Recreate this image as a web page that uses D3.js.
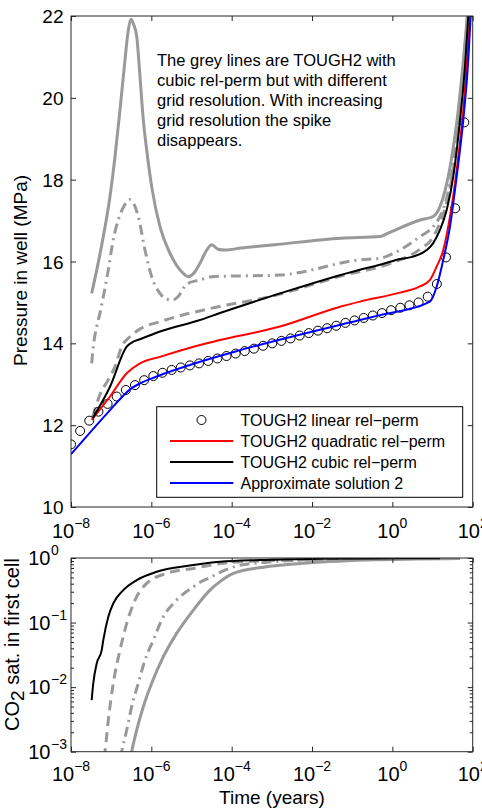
<!DOCTYPE html>
<html><head><meta charset="utf-8">
<script src="https://cdn.jsdelivr.net/npm/d3@7"></script>
<style>
body{margin:0;background:#fff}
svg{display:block}
text{font-family:"Liberation Sans",Arial,Helvetica,sans-serif;fill:#000}
</style>
</head><body>
<svg id="c" width="482" height="811"></svg>
<script>
// ---------- data ----------
const xTicks = [1e-8, 1e-6, 1e-4, 1e-2, 1e0, 1e2];
const xTickExp = ["\u22128", "\u22126", "\u22124", "\u22122", "0", "2"];
const pTicks = [10, 12, 14, 16, 18, 20, 22];
const sTicks = [1e-3, 1e-2, 1e-1, 1];
const sTickExp = ["\u22123", "\u22122", "\u22121", "0"];
const sMinor = [2e-3,3e-3,4e-3,5e-3,6e-3,7e-3,8e-3,9e-3,2e-2,3e-2,4e-2,5e-2,6e-2,7e-2,8e-2,9e-2,0.2,0.3,0.4,0.5,0.6,0.7,0.8,0.9];

const legendLabels = ["TOUGH2 linear rel\u2212perm", "TOUGH2 quadratic rel\u2212perm", "TOUGH2 cubic rel\u2212perm", "Approximate solution 2"];
const noteLines = ["The grey lines are TOUGH2 with", "cubic rel-perm but with different", "grid resolution. With increasing", "grid resolution the spike", "disappears."];

// pressure: TOUGH2 linear (circles)
const circT = [1.00e-8,1.69e-8,2.85e-8,4.82e-8,8.14e-8,1.375e-7,2.32e-7,3.92e-7,6.63e-7,1.12e-6,1.89e-6,3.20e-6,5.40e-6,9.12e-6,1.54e-5,2.60e-5,4.40e-5,7.43e-5,1.255e-4,2.12e-4,3.58e-4,6.05e-4,1.022e-3,1.726e-3,2.916e-3,4.93e-3,8.32e-3,1.406e-2,2.375e-2,4.01e-2,6.78e-2,0.1145,0.1934,0.3267,0.552,0.932,1.575,2.66,4.49,7.59,12.82,21.66,36.6,61.8];
const circP = [11.53,11.86,12.11,12.33,12.52,12.70,12.86,12.98,13.10,13.20,13.28,13.35,13.41,13.46,13.51,13.57,13.63,13.69,13.75,13.81,13.87,13.94,14.00,14.06,14.12,14.19,14.25,14.31,14.37,14.43,14.50,14.56,14.62,14.68,14.74,14.81,14.87,14.93,15.00,15.14,15.45,16.10,17.30,19.40];

// pressure: quadratic (red)
const redT = [3.27e-8,9.35e-8,2.44e-7,5.22e-7,1.64e-6,1.63e-5,5.12e-5,1.60e-3,0.0526,0.156,1.55,4.88,8.65,12.7,18.5,27.2,40.0,58.3,77.7,85.7];
const redP = [12.13,12.70,13.27,13.51,13.67,13.96,14.08,14.41,14.90,15.02,15.24,15.39,15.55,15.88,16.28,17.10,18.24,19.71,21.34,22.0];

// pressure: cubic (black)
const blackT = [3.47e-8,9.35e-8,2.44e-7,3.56e-7,5.22e-7,1.64e-6,1.63e-5,5.12e-5,1.60e-3,0.156,0.492,1.55,3.32,7.16,10.4,15.3,22.5,32.9,48.3,64.3,77.7];
const blackP = [12.17,12.94,13.92,14.04,14.10,14.29,14.57,14.74,15.22,15.80,15.92,16.06,16.12,16.28,16.45,16.77,17.26,18.08,19.46,20.77,22.0];

// pressure: approximate solution 2 (blue)
const blueT = [1e-8,1.0e-7,2.0e-7,3.0e-7,5.22e-7,1.36e-6,1.63e-5,1.71e-4,0.156,0.492,8.65,12.7,18.5,27.2,40.0,58.3,77.7,89.1];
const blueP = [11.29,12.40,12.72,12.88,13.02,13.19,13.55,13.84,14.57,14.69,15.02,15.39,16.04,16.85,18.08,19.46,20.93,22.0];

// pressure: grey, coarse grid (solid)
const gSolidT = [3.27e-8,4.37e-8,6.37e-8,9.35e-8,1.245e-7,1.66e-7,2.21e-7,2.67e-7,3.12e-7,3.60e-7,4.33e-7,5.22e-7,6.31e-7,7.65e-7,1.02e-6,1.64e-6,2.92e-6,6.25e-6,8.32e-6,1.22e-5,1.63e-5,2.30e-5,3.18e-5,4.56e-5,6.83e-5,1.71e-4,1.15e-3,0.0526,0.492,0.766,5.16,10.4,15.3,27.2,43.8,64.3,73.4];
const gSolidP = [15.22,15.79,16.61,17.59,18.56,19.71,20.93,21.66,21.92,21.80,21.5,20.52,19.46,18.73,17.83,16.85,16.2,15.71,15.63,15.75,15.96,16.25,16.41,16.30,16.28,16.33,16.41,16.57,16.61,16.69,17.02,17.10,17.34,18.3,19.71,21.34,22.0];

// pressure: grey, medium grid (dash-dot)
const gDotT = [3.27e-8,3.59e-8,4.37e-8,5.27e-8,6.37e-8,8.49e-8,1.11e-7,1.48e-7,2.08e-7,2.94e-7,4.73e-7,6.95e-7,1.02e-6,1.64e-6,2.32e-6,3.46e-6,4.61e-6,7.59e-6,1.63e-5,3.24e-5,1.60e-3,0.156,0.492,1.55,4.88,10.4,15.3,22.5,30.5,43.1,60.7,74.3];
const gDotP = [13.51,13.92,14.41,14.74,15.14,15.80,16.5,17.0,17.35,17.51,17.1,16.28,15.63,15.22,15.08,15.06,15.14,15.45,15.55,15.63,15.67,16.04,16.08,16.28,16.61,16.85,17.1,17.55,18.2,19.4,21.0,22.0];

// pressure: grey, fine grid (dashed)
const gDashT = [3.47e-8,5.27e-8,8.34e-8,1.245e-7,1.83e-7,2.94e-7,5.22e-7,1.64e-6,3.18e-5,8.02e-4,0.0662,0.873,4.88,10.4,15.3,22.5,32.9,48.3,64.3,76.4];
const gDashP = [12.2,12.75,13.1,13.43,13.92,14.16,14.35,14.53,14.86,15.13,15.67,15.95,16.3,16.6,16.95,17.45,18.25,19.6,20.95,22.0];

// saturation (bottom panel)
const sBlackT = [3.27e-8,3.59e-8,4.37e-8,5.81e-8,6.37e-8,8.49e-8,1.13e-7,2.00e-7,4.33e-7,1.36e-6,1.11e-5,5.12e-5,5.07e-4,0.0158,1.55,15.3];
const sBlackS = [6.3e-3,0.0115,0.0233,0.0375,0.0536,0.123,0.198,0.318,0.455,0.611,0.776,0.873,0.93,0.97,0.99,0.995];
const sDashT = [6.64e-8,7.01e-8,8.49e-8,1.13e-7,1.66e-7,2.44e-7,3.92e-7,7.65e-7,2.41e-6,1.11e-5,5.12e-5,5.07e-4,0.0158,1.55,48.3];
const sDashS = [8e-4,1e-3,3.1e-3,0.0115,0.0375,0.097,0.223,0.404,0.578,0.69,0.82,0.9,0.95,0.98,0.99];
const sDotT = [1.71e-7,1.83e-7,2.44e-7,3.24e-7,4.73e-7,6.95e-7,1.12e-6,1.99e-6,4.27e-6,1.11e-5,1.63e-5,2.88e-5,5.12e-5,1.33e-4,9.0e-4,0.0158,1.55,48.3];
const sDotS = [8e-4,1e-3,2.17e-3,4.98e-3,0.0115,0.0263,0.0536,0.123,0.223,0.358,0.42,0.5,0.6,0.75,0.87,0.94,0.98,0.99];
const sSolidT = [3.03e-7,3.24e-7,4.33e-7,6.31e-7,1.02e-6,1.99e-6,4.27e-6,1.11e-5,2.88e-5,5.12e-5,1.10e-4,7.45e-4,5.02e-3,0.23,48.3];
const sSolidS = [8e-4,1e-3,2.17e-3,4.98e-3,0.0115,0.0296,0.068,0.156,0.318,0.43,0.578,0.73,0.82,0.93,0.985];

// ---------- layout ----------
const W = 482, H = 811;
const L = 71, R = 472.7, T1 = 16, B1 = 507, T2 = 558, B2 = 751.7;
const GREY = "#999999", AX = "#262626";

const svg = d3.select("#c");
const x = d3.scaleLog().domain([1e-8, 1e2]).range([L, R]);
const yP = d3.scaleLinear().domain([10, 22]).range([B1, T1]);
const yS = d3.scaleLog().domain([1e-3, 1]).range([B2, T2]);

const defs = svg.append("defs");
defs.append("clipPath").attr("id", "clipTop").append("rect").attr("x", L).attr("y", T1).attr("width", R - L).attr("height", B1 - T1);
defs.append("clipPath").attr("id", "clipBot").append("rect").attr("x", L).attr("y", T2).attr("width", R - L).attr("height", B2 - T2);

const lineP = d3.line().x(d => x(d[0])).y(d => yP(d[1])).curve(d3.curveMonotoneX);
const lineS = d3.line().x(d => x(d[0])).y(d => yS(d[1])).curve(d3.curveMonotoneX);

function drawLine(g, gen, t, v, color, width, dash) {
  g.append("path").datum(d3.zip(t, v)).attr("d", gen)
    .attr("fill", "none").attr("stroke", color).attr("stroke-width", width)
    .attr("stroke-dasharray", dash || null).attr("stroke-linejoin", "round");
}

// ---------- top panel ----------
const gTop = svg.append("g").attr("clip-path", "url(#clipTop)");
drawLine(gTop, lineP, gSolidT, gSolidP, GREY, 3);
drawLine(gTop, lineP, gDotT, gDotP, GREY, 3, "10,5,2,5");
drawLine(gTop, lineP, gDashT, gDashP, GREY, 3, "10,6");
gTop.append("g").selectAll("circle").data(d3.zip(circT, circP)).join("circle")
  .attr("cx", d => x(d[0])).attr("cy", d => yP(d[1])).attr("r", 4.5)
  .attr("fill", "none").attr("stroke", "#000").attr("stroke-width", 1);
drawLine(gTop, lineP, redT, redP, "#ff0000", 2);
drawLine(gTop, lineP, blackT, blackP, "#000000", 2);
drawLine(gTop, lineP, blueT, blueP, "#0000ff", 2);

// annotation
const note = svg.append("text").attr("x", 157).attr("y", 66).attr("font-size", 16.5);
noteLines.forEach((s, i) => note.append("tspan").attr("x", 157).attr("y", 66 + i * 20).text(s));

// legend
const lg = svg.append("g");
lg.append("rect").attr("x", 156.7).attr("y", 406.7).attr("width", 306).attr("height", 90.6)
  .attr("fill", "#fff").attr("stroke", "#000").attr("stroke-width", 1);
const lgY = [420, 441, 462, 483];
lg.append("circle").attr("cx", 201.5).attr("cy", lgY[0]).attr("r", 4.5).attr("fill", "none").attr("stroke", "#000");
[["#ff0000", 1], ["#000000", 2], ["#0000ff", 3]].forEach(([c, i]) =>
  lg.append("line").attr("x1", 170).attr("x2", 233.3).attr("y1", lgY[i]).attr("y2", lgY[i]).attr("stroke", c).attr("stroke-width", 2));
legendLabels.forEach((s, i) => lg.append("text").attr("x", 240.5).attr("y", lgY[i] + 6).attr("font-size", 16).text(s));

// axes top panel
function styleAxis(g) { g.attr("color", AX).select(".domain").remove(); }
svg.append("g").attr("transform", `translate(0,${B1})`).call(d3.axisBottom(x).tickValues(xTicks).tickSize(-5).tickFormat(() => "")).call(styleAxis);
svg.append("g").attr("transform", `translate(0,${T1})`).call(d3.axisTop(x).tickValues(xTicks).tickSize(-5).tickFormat(() => "")).call(styleAxis);
svg.append("g").attr("transform", `translate(${L},0)`).call(d3.axisLeft(yP).tickValues(pTicks).tickSize(-5).tickFormat(() => "")).call(styleAxis);
svg.append("g").attr("transform", `translate(${R},0)`).call(d3.axisRight(yP).tickValues(pTicks).tickSize(-5).tickFormat(() => "")).call(styleAxis);
svg.append("rect").attr("x", L).attr("y", T1).attr("width", R - L).attr("height", B1 - T1).attr("fill", "none").attr("stroke", AX).attr("stroke-width", 1);

pTicks.forEach(v => svg.append("text").attr("x", 63.5).attr("y", yP(v) + 7).attr("text-anchor", "end").attr("font-size", 19).text(v));

function xLabels(yBase) {
  xTicks.forEach((v, i) => {
    const t = svg.append("text").attr("x", x(v)).attr("y", yBase).attr("text-anchor", "middle").attr("font-size", 20);
    t.append("tspan").text("10");
    t.append("tspan").attr("dy", -10).attr("font-size", 14).text(xTickExp[i]);
  });
}
xLabels(538);

svg.append("text").attr("transform", `translate(27,${(T1 + B1) / 2 + 9}) rotate(-90)`).attr("text-anchor", "middle").attr("font-size", 19).text("Pressure in well (MPa)");

// ---------- bottom panel ----------
const gBot = svg.append("g").attr("clip-path", "url(#clipBot)");
drawLine(gBot, lineS, sSolidT, sSolidS, GREY, 3);
drawLine(gBot, lineS, sDotT, sDotS, GREY, 3, "10,5,2,5");
drawLine(gBot, lineS, sDashT, sDashS, GREY, 3, "10,6");
drawLine(gBot, lineS, sBlackT, sBlackS, "#000000", 2);

svg.append("g").attr("transform", `translate(0,${B2})`).call(d3.axisBottom(x).tickValues(xTicks).tickSize(-5).tickFormat(() => "")).call(styleAxis);
svg.append("g").attr("transform", `translate(0,${T2})`).call(d3.axisTop(x).tickValues(xTicks).tickSize(-5).tickFormat(() => "")).call(styleAxis);
svg.append("g").attr("transform", `translate(${L},0)`).call(d3.axisLeft(yS).tickValues(sTicks).tickSize(-5).tickFormat(() => "")).call(styleAxis);
svg.append("g").attr("transform", `translate(${R},0)`).call(d3.axisRight(yS).tickValues(sTicks).tickSize(-5).tickFormat(() => "")).call(styleAxis);
svg.append("g").attr("transform", `translate(${L},0)`).call(d3.axisLeft(yS).tickValues(sMinor).tickSize(-3).tickFormat(() => "")).call(styleAxis);
svg.append("g").attr("transform", `translate(${R},0)`).call(d3.axisRight(yS).tickValues(sMinor).tickSize(-3).tickFormat(() => "")).call(styleAxis);
svg.append("rect").attr("x", L).attr("y", T2).attr("width", R - L).attr("height", B2 - T2).attr("fill", "none").attr("stroke", AX).attr("stroke-width", 1);

sTicks.forEach((v, i) => {
  svg.append("text").attr("x", 50.5).attr("y", yS(v) + 7).attr("text-anchor", "end").attr("font-size", 20).text("10");
  svg.append("text").attr("x", 51).attr("y", yS(v) - 3).attr("text-anchor", "start").attr("font-size", 14).text(sTickExp[i]);
});
xLabels(781);

const yl = svg.append("text").attr("transform", `translate(19,731) rotate(-90)`).attr("text-anchor", "start").attr("font-size", 20);
yl.append("tspan").text("CO");
yl.append("tspan").attr("dy", 5).attr("font-size", 19).text("2");
yl.append("tspan").attr("dy", -5).text(" sat. in first cell");

svg.append("text").attr("x", 272).attr("y", 804).attr("text-anchor", "middle").attr("font-size", 19).text("Time (years)");
</script>
</body></html>
